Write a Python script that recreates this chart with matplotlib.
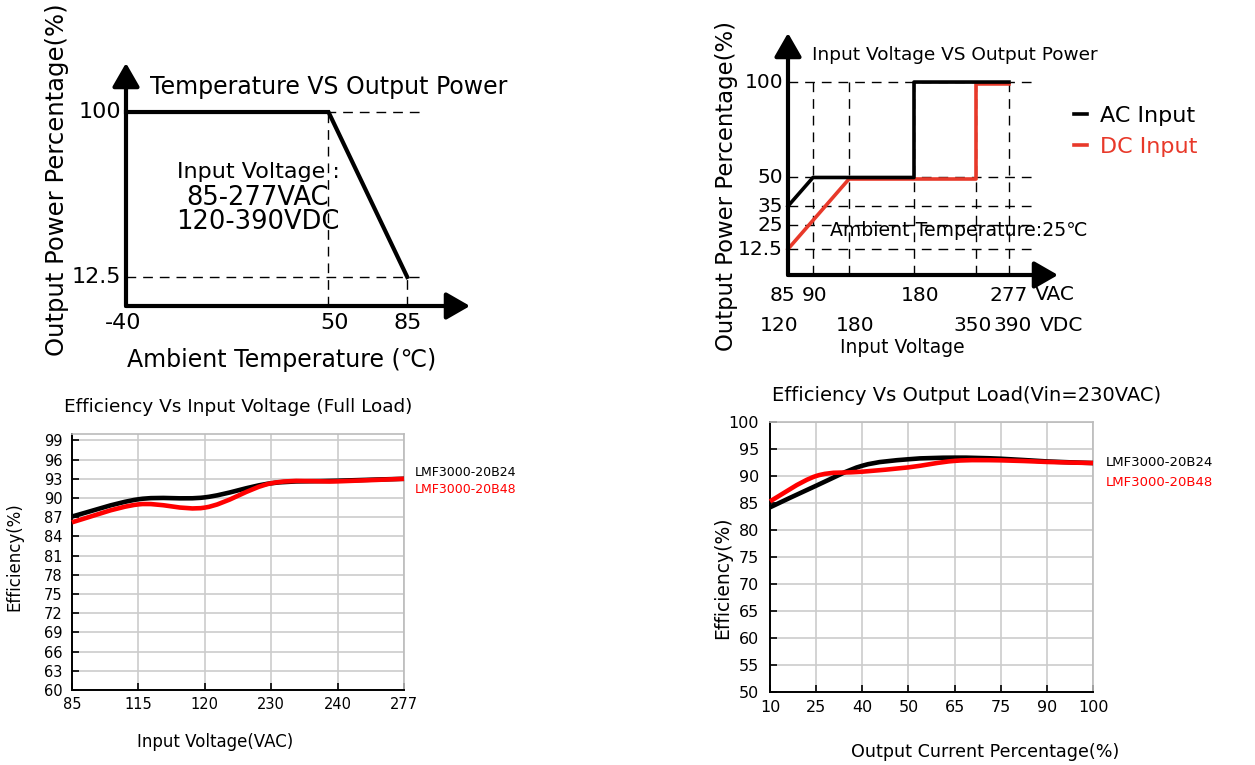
import numpy as np
import matplotlib
matplotlib.use("Agg")
import matplotlib.pyplot as plt
from matplotlib.path import Path
from matplotlib.patches import PathPatch

plt.rcParams["font.family"] = ["DejaVu Sans"]

W, H = 1255, 765
RED = "#e8392a"

# temperature derating
derate_temp = [-40, 50, 85]
derate_power = [100, 100, 12.5]

# input voltage derating
ac_volts = [85, 90, 180, 180, 277]
ac_power = [35, 50, 50, 100, 100]
dc_volts = [120, 180, 350, 350, 390]
dc_power = [12.5, 49.2, 49.2, 99, 99]
ac_ticks = [85, 90, 180, 277]
dc_ticks = [120, 180, 350, 390]
vin_power_ticks = [100, 50, 35, 25, 12.5]

# efficiency vs input voltage (full load)
vin_labels = ["85", "115", "120", "230", "240", "277"]
eff_vin_b24 = [87.1, 89.8, 90.1, 92.3, 92.7, 93.0]
eff_vin_b48 = [86.2, 89.0, 88.5, 92.3, 92.6, 93.0]

# efficiency vs output load (230VAC)
load_labels = ["10", "25", "40", "50", "65", "75", "90", "100"]
eff_load_b24 = [84.2, 88.2, 91.9, 93.1, 93.4, 93.2, 92.7, 92.4]
eff_load_b48 = [85.3, 90.0, 90.8, 91.6, 92.8, 92.9, 92.6, 92.4]

# schematic x positions of the voltage ticks (drawing is not to scale)
ac_pos = [0, 25, 126, 221]
dc_pos = [0, 61, 188, 221]

fig = plt.figure(figsize=(W / 100, H / 100), dpi=100)


def px_axes(l, t, r, b):
    return fig.add_axes([l / W, 1 - b / H, (r - l) / W, (b - t) / H])


def ftext(x, y, s, **kw):
    fig.text(x / W, 1 - y / H, s, **kw)


def arrow(ax, start, end):
    ax.annotate("", xy=end, xytext=start, annotation_clip=False,
                arrowprops=dict(arrowstyle="-|>,head_length=0.8,head_width=0.46",
                                mutation_scale=18, lw=3, color="black",
                                shrinkA=0, shrinkB=0))


def smooth_path(xs, ys):
    pts = np.column_stack([xs, ys]).astype(float)
    ext = np.vstack([pts[0], pts, pts[-1]])
    verts, codes = [pts[0]], [Path.MOVETO]
    for i in range(len(pts) - 1):
        p0, p1, p2, p3 = ext[i], ext[i + 1], ext[i + 2], ext[i + 3]
        verts += [p1 + (p2 - p0) / 6, p2 - (p3 - p1) / 6, p2]
        codes += [Path.CURVE4] * 3
    return Path(verts, codes)


dash = dict(color="black", lw=1, ls=(0, (7, 5)), clip_on=False)

# ---------- temperature vs output power ----------
ax1 = px_axes(126, 63, 470, 306)
ax1.set_xlim(-40, 112.9)
ax1.set_ylim(-2.88, 126)
ax1.axis("off")
ax1.hlines([100, 12.5], -40, 90.7, **dash)
ax1.vlines(derate_temp[1:], -2.88, derate_power[1:], **dash)
ax1.plot(derate_temp, derate_power, color="black", lw=3, clip_on=False,
         solid_joinstyle="miter")
arrow(ax1, (-40, -2.88), (-40, 126))
arrow(ax1, (-40, -2.88), (112.9, -2.88))
for v in [100, 12.5]:
    ax1.annotate(f"{v:g}", (-40, v), xytext=(-5, 0), textcoords="offset pixels",
                 ha="right", va="center", fontsize=16)
for v, dx in zip(derate_temp, [-3, 6, 0]):
    ax1.annotate(f"{v:g}", (v, -2.88), xytext=(dx, -17), textcoords="offset pixels",
                 ha="center", va="center", fontsize=16)
ftext(150, 87, "Temperature VS Output Power", fontsize=17, va="center")
ftext(258, 172, "Input Voltage :", fontsize=16, ha="center", va="center")
ftext(258, 198, "85-277VAC", fontsize=18.5, ha="center", va="center")
ftext(258, 222, "120-390VDC", fontsize=18.5, ha="center", va="center")
ftext(282, 360, "Ambient Temperature (℃)", fontsize=17, ha="center", va="center")
ftext(57, 180, "Output Power Percentage(%)", fontsize=17.5, rotation=90,
      ha="center", va="center")

# ---------- input voltage vs output power ----------
ax2 = px_axes(788, 33, 1058, 275)
ax2.set_xlim(0, 270)
ax2.set_ylim(-1.1, 125.7)
ax2.axis("off")
ax2.hlines(vin_power_ticks, 0, 249, **dash)
ax2.vlines(sorted(set(ac_pos[1:] + dc_pos[1:])), -1.1, 100, **dash)
ax2.plot(np.interp(dc_volts, dc_ticks, dc_pos), dc_power, color=RED, lw=2.6,
         label="DC Input", clip_on=False)
ax2.plot(np.interp(ac_volts, ac_ticks, ac_pos), ac_power, color="black", lw=2.6,
         label="AC Input", clip_on=False)
arrow(ax2, (0, -1.1), (0, 125.7))
arrow(ax2, (0, -1.1), (270, -1.1))
for v in vin_power_ticks:
    ax2.annotate(f"{v:g}", (0, v), xytext=(-5, 0), textcoords="offset pixels",
                 ha="right", va="center", fontsize=14.5)
for v, p, dx in zip(ac_ticks, ac_pos, [-6, 2, 6, 0]):
    ax2.annotate(str(v), (p, -1.1), xytext=(dx, -20), textcoords="offset pixels",
                 ha="center", va="center", fontsize=14.5)
for v, p, dx in zip(dc_ticks, dc_pos, [-9, 6, -3, 4]):
    ax2.annotate(str(v), (p, -1.1), xytext=(dx, -50), textcoords="offset pixels",
                 ha="center", va="center", fontsize=14.5)
ftext(1035, 295, "VAC", fontsize=14.5, va="center")
ftext(1040, 325, "VDC", fontsize=14.5, va="center")
ftext(902, 348, "Input Voltage", fontsize=13.5, ha="center", va="center")
ftext(812, 55, "Input Voltage VS Output Power", fontsize=13.3, va="center")
ftext(830, 230, "Ambient Temperature:25℃", fontsize=13.6, va="center")
ftext(727, 186, "Output Power Percentage(%)", fontsize=16.4, rotation=90,
      ha="center", va="center")
h, l = ax2.get_legend_handles_labels()
ax2.legend(h[::-1], l[::-1], loc="upper left", bbox_to_anchor=(1074 / W, 1 - 106 / H),
           bbox_transform=fig.transFigure, frameon=False, fontsize=16,
           handlelength=0.6, handletextpad=0.55, labelspacing=0.48,
           borderpad=0, borderaxespad=0, labelcolor="linecolor")


# ---------- efficiency charts ----------
def eff_axes(box, labels, yticks, ylim, fs, ypad, xpad):
    ax = px_axes(*box)
    ax.set_xlim(0, len(labels) - 1)
    ax.set_ylim(*ylim)
    ax.set_xticks(np.arange(len(labels)), labels)
    ax.set_yticks(yticks)
    ax.set_axisbelow(True)
    ax.grid(True, color="#cccccc", lw=1.2)
    ax.tick_params(direction="in", length=5, width=1.2, labelsize=fs)
    ax.tick_params(axis="y", pad=ypad)
    ax.tick_params(axis="x", pad=xpad)
    for s in ["top", "right"]:
        ax.spines[s].set_color("#bbbbbb")
        ax.spines[s].set_linewidth(1.2)
    for s in ["left", "bottom"]:
        ax.spines[s].set_linewidth(1.4)
    return ax


def curve(ax, ys, color):
    p = smooth_path(np.arange(len(ys)), ys)
    ax.add_patch(PathPatch(p, fill=False, edgecolor=color, lw=3.3,
                           capstyle="butt", zorder=3, clip_on=False))


ax3 = eff_axes((72, 434, 404, 690), vin_labels, np.arange(60, 100, 3), (60, 100),
               10.5, 7, 5)
curve(ax3, eff_vin_b24, "black")
curve(ax3, eff_vin_b48, "#ff0000")
ftext(238, 407, "Efficiency Vs Input Voltage (Full Load)", fontsize=13.3,
      ha="center", va="center")
ftext(415, 472, "LMF3000-20B24", fontsize=9, va="center")
ftext(415, 490, "LMF3000-20B48", fontsize=9, va="center", color="#ff0000")
ftext(215, 742, "Input Voltage(VAC)", fontsize=12, ha="center", va="center")
ftext(14, 557, "Efficiency(%)", fontsize=12, rotation=90, ha="center", va="center")

ax4 = eff_axes((770, 422, 1093, 692), load_labels, np.arange(50, 101, 5), (50, 100),
               11.5, 8, 6)
curve(ax4, eff_load_b24, "black")
curve(ax4, eff_load_b48, "#ff0000")
ftext(967, 395, "Efficiency Vs Output Load(Vin=230VAC)", fontsize=14,
      ha="center", va="center")
ftext(1106, 462, "LMF3000-20B24", fontsize=9.5, va="center")
ftext(1106, 483, "LMF3000-20B48", fontsize=9.5, va="center", color="#ff0000")
ftext(985, 752, "Output Current Percentage(%)", fontsize=12.6, ha="center", va="center")
ftext(723, 578, "Efficiency(%)", fontsize=13.5, rotation=90, ha="center", va="center")

fig.savefig("out.png", dpi=100)
